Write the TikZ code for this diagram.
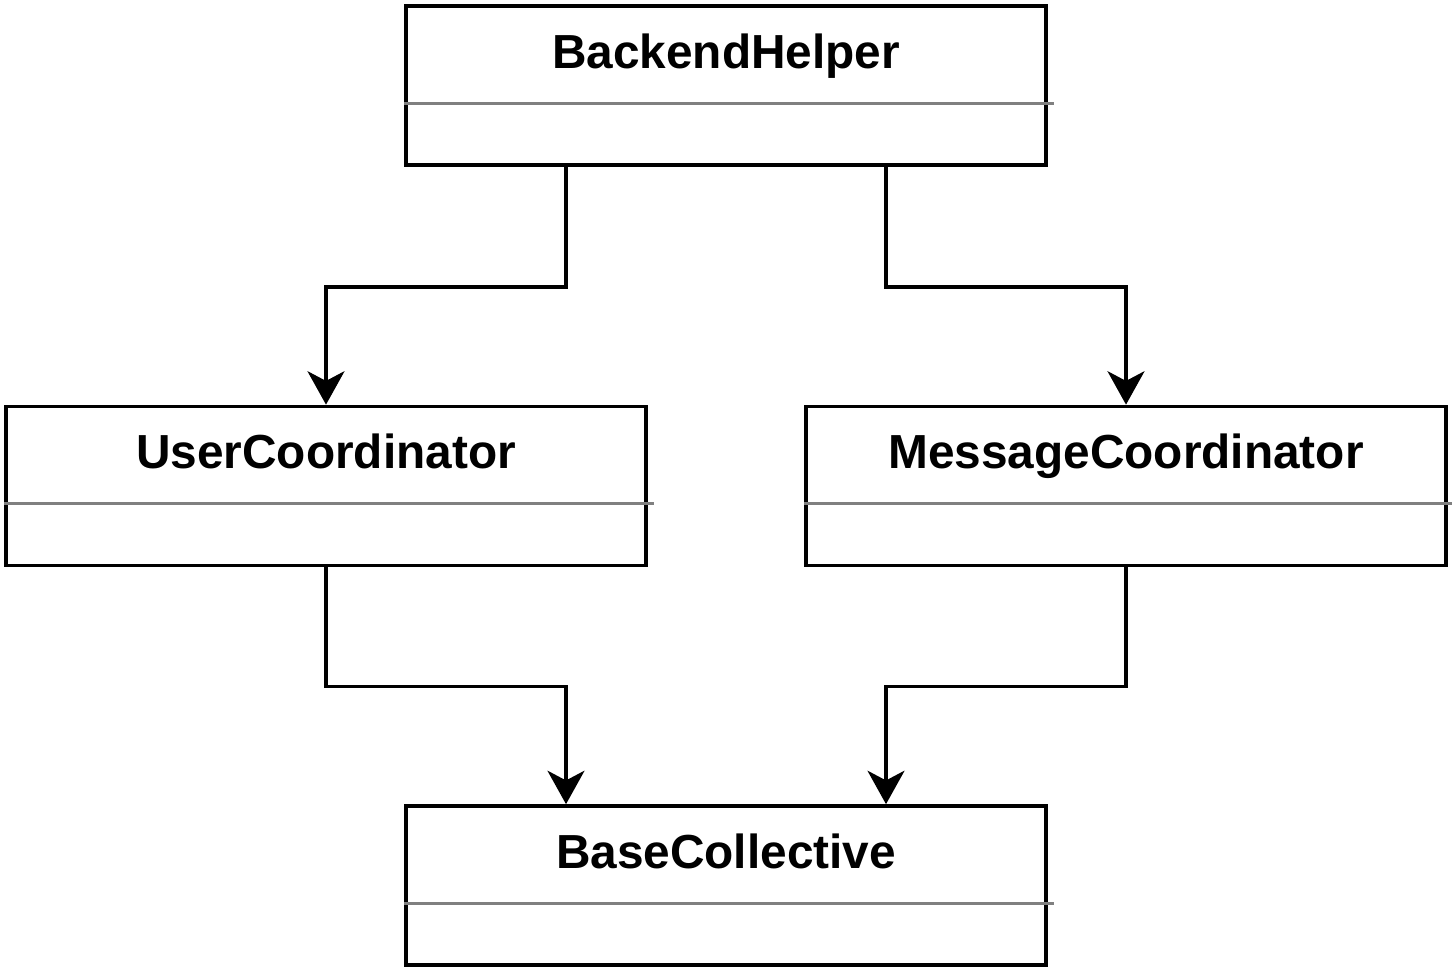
\documentclass[tikz,border=0pt]{standalone}
\usepackage{fontspec}
\setmainfont{Liberation Sans}
\usepackage{tikz}
\usetikzlibrary{arrows.meta, positioning}
\usetikzlibrary{calc}

\tikzset{
    classbox/.style={rectangle, draw, line width=2.1pt, minimum width=640*0.02cm, minimum height=159*0.02cm, inner sep=0pt},
    classname/.style={anchor=base, inner sep=0pt, font=\bfseries\fontsize{27.2}{32}\selectfont},
    divider/.style={draw=gray, line width=1.8pt},
    dep/.style={draw, line width=2.1pt, -{Stealth[length=19pt, width=21pt, inset=5.5pt]}}
}

\begin{document}
\begin{tikzpicture}[x=0.02cm, y=-0.02cm]
            \useasboundingbox (0,0) rectangle (1452,972);
            % class boxes
            \node[classbox](helper) at (726,85.5) {};
            \node[classbox](user) at (326,486) {};
            \node[classbox](msg) at (1126,486) {};
            \node[classbox](base) at (726,885.5) {};
            % names
            \node[classname](helpername) at ($(helper.north)+(0,64)$) {BackendHelper};
            \node[classname](username) at ($(user.north)+(0,64)$) {UserCoordinator};
            \node[classname](msgname) at ($(msg.north)+(0,64)$) {MessageCoordinator};
            \node[classname](basename) at ($(base.north)+(0,64)$) {BaseCollective};
            % dividers
            \draw[divider] ($(helper.north west)+(0,99)$) -- ($(helper.north east)+(6,99)$);
            \draw[divider] ($(user.north west)+(0,99)$) -- ($(user.north east)+(6,99)$);
            \draw[divider] ($(msg.north west)+(0,99)$) -- ($(msg.north east)+(6,99)$);
            \draw[divider] ($(base.north west)+(0,99)$) -- ($(base.north east)+(6,99)$);
            % connectors
            \draw[dep] ($(helper.south)+(-160,0)$) -- ++(0,120) -| (user.north);
            \draw[dep] ($(helper.south)+(160,0)$) -- ++(0,120) -| (msg.north);
            \draw[dep] (user.south) -- ++(0,119) -| ($(base.north)+(-160,0)$);
            \draw[dep] (msg.south) -- ++(0,119) -| ($(base.north)+(160,0)$);
        \end{tikzpicture}
\end{document}
